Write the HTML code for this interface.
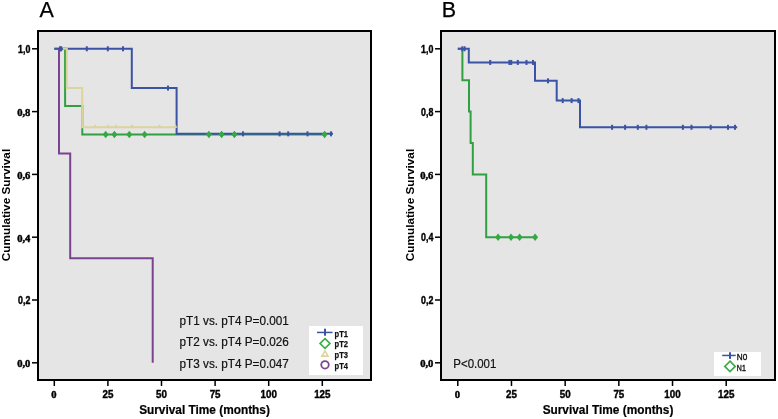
<!DOCTYPE html><html><head><meta charset="utf-8"><style>html,body{margin:0;padding:0;background:#fff;width:778px;height:419px;overflow:hidden}</style></head><body><div style="will-change:transform;width:778px;height:419px"><svg width="778" height="419" viewBox="0 0 778 419" font-family='"Liberation Sans", sans-serif' style="display:block">
<rect width="778" height="419" fill="#fff"/>
<rect x="38" y="31" width="333" height="349" fill="#e5e5e5" stroke="#000" stroke-width="2"/>
<rect x="32" y="362.05" width="5" height="1.5" fill="#000"/>
<text x="30.4" y="367.20" font-size="10.6" font-weight="bold" text-anchor="end" fill="#000" stroke="#000" stroke-width="0.45" font-family='"Liberation Serif", serif'>0,0</text>
<rect x="32" y="299.25" width="5" height="1.5" fill="#000"/>
<text x="30.4" y="304.00" font-size="10.0" font-weight="bold" text-anchor="end" fill="#000" stroke="#000" stroke-width="0.4" textLength="12.3" lengthAdjust="spacingAndGlyphs">0,2</text>
<rect x="32" y="236.45" width="5" height="1.5" fill="#000"/>
<text x="30.4" y="241.60" font-size="10.6" font-weight="bold" text-anchor="end" fill="#000" stroke="#000" stroke-width="0.45" font-family='"Liberation Serif", serif'>0,4</text>
<rect x="32" y="173.65" width="5" height="1.5" fill="#000"/>
<text x="30.4" y="178.80" font-size="10.6" font-weight="bold" text-anchor="end" fill="#000" stroke="#000" stroke-width="0.45" font-family='"Liberation Serif", serif'>0,6</text>
<rect x="32" y="110.85" width="5" height="1.5" fill="#000"/>
<text x="30.4" y="116.00" font-size="10.6" font-weight="bold" text-anchor="end" fill="#000" stroke="#000" stroke-width="0.45" font-family='"Liberation Serif", serif'>0,8</text>
<rect x="32" y="48.05" width="5" height="1.5" fill="#000"/>
<text x="30.4" y="52.80" font-size="10.0" font-weight="bold" text-anchor="end" fill="#000" stroke="#000" stroke-width="0.4" textLength="12.3" lengthAdjust="spacingAndGlyphs">1,0</text>
<rect x="53.55" y="381" width="1.5" height="5" fill="#000"/>
<text x="53.80" y="397.8" font-size="10.6" font-weight="bold" text-anchor="middle" fill="#000" stroke="#000" stroke-width="0.45" font-family='"Liberation Serif", serif'>0</text>
<rect x="107.15" y="381" width="1.5" height="5" fill="#000"/>
<text x="107.90" y="397.8" font-size="10.3" font-weight="bold" text-anchor="middle" fill="#000" stroke="#000" stroke-width="0.4" textLength="10.90" lengthAdjust="spacingAndGlyphs">25</text>
<rect x="160.75" y="381" width="1.5" height="5" fill="#000"/>
<text x="161.50" y="397.8" font-size="10.3" font-weight="bold" text-anchor="middle" fill="#000" stroke="#000" stroke-width="0.4" textLength="10.90" lengthAdjust="spacingAndGlyphs">50</text>
<rect x="214.35" y="381" width="1.5" height="5" fill="#000"/>
<text x="215.10" y="397.8" font-size="10.3" font-weight="bold" text-anchor="middle" fill="#000" stroke="#000" stroke-width="0.4" textLength="10.90" lengthAdjust="spacingAndGlyphs">75</text>
<rect x="267.95" y="381" width="1.5" height="5" fill="#000"/>
<text x="268.70" y="397.8" font-size="10.3" font-weight="bold" text-anchor="middle" fill="#000" stroke="#000" stroke-width="0.4" textLength="16.35" lengthAdjust="spacingAndGlyphs">100</text>
<rect x="321.55" y="381" width="1.5" height="5" fill="#000"/>
<text x="322.30" y="397.8" font-size="10.3" font-weight="bold" text-anchor="middle" fill="#000" stroke="#000" stroke-width="0.4" textLength="16.35" lengthAdjust="spacingAndGlyphs">125</text>
<text x="204.50" y="414.2" font-size="11.85" font-weight="bold" text-anchor="middle" fill="#000" stroke="#000" stroke-width="0.2">Survival Time (months)</text>
<text x="0" y="0" font-size="11.75" font-weight="bold" text-anchor="middle" fill="#000" transform="translate(10.4,205) rotate(-90)">Cumulative Survival</text>
<text x="39.5" y="17" font-size="21.5" font-weight="normal" text-anchor="start" fill="#000" stroke="#000" stroke-width="0.25">A</text>
<path d="M54.30,48.80 L65.10,48.80 L65.10,105.89 L82.30,105.89 L82.30,134.44 L324.40,134.44" fill="none" stroke="#31a040" stroke-width="2" stroke-linejoin="miter" stroke-linecap="butt"/>
<path d="M54.30,48.80 L131.80,48.80 L131.80,88.05 L176.60,88.05 L176.60,133.84 L333.00,133.84" fill="none" stroke="#3a53a5" stroke-width="2" stroke-linejoin="miter" stroke-linecap="butt"/>
<path d="M62.80,48.80 L66.80,48.80 L66.80,88.05 L82.20,88.05 L82.20,127.30 L175.70,127.30" fill="none" stroke="#dcd49c" stroke-width="2" stroke-linejoin="miter" stroke-linecap="butt"/>
<path d="M59.00,48.80 L59.00,48.80 L59.00,153.47 L70.20,153.47 L70.20,258.13 L152.70,258.13 L152.70,362.80" fill="none" stroke="#7b4290" stroke-width="2" stroke-linejoin="miter" stroke-linecap="butt"/>
<path d="M92.90,127.80 L95.20,124.10 L97.50,127.80 Z" fill="#dcd49c"/>
<path d="M105.50,127.80 L107.80,124.10 L110.10,127.80 Z" fill="#dcd49c"/>
<path d="M113.90,127.80 L116.20,124.10 L118.50,127.80 Z" fill="#dcd49c"/>
<path d="M129.70,127.80 L132.00,124.10 L134.30,127.80 Z" fill="#dcd49c"/>
<path d="M157.20,127.80 L159.50,124.10 L161.80,127.80 Z" fill="#dcd49c"/>
<path d="M173.00,127.80 L175.30,124.10 L177.60,127.80 Z" fill="#dcd49c"/>
<path d="M105.70,130.74 L108.70,134.44 L105.70,138.14 L102.70,134.44 Z" fill="#35a844"/>
<path d="M114.40,130.74 L117.40,134.44 L114.40,138.14 L111.40,134.44 Z" fill="#35a844"/>
<path d="M129.30,130.74 L132.30,134.44 L129.30,138.14 L126.30,134.44 Z" fill="#35a844"/>
<path d="M144.60,130.74 L147.60,134.44 L144.60,138.14 L141.60,134.44 Z" fill="#35a844"/>
<path d="M208.90,130.74 L211.90,134.44 L208.90,138.14 L205.90,134.44 Z" fill="#35a844"/>
<path d="M221.60,130.74 L224.60,134.44 L221.60,138.14 L218.60,134.44 Z" fill="#35a844"/>
<path d="M234.40,130.74 L237.40,134.44 L234.40,138.14 L231.40,134.44 Z" fill="#35a844"/>
<path d="M324.60,130.74 L327.60,134.44 L324.60,138.14 L321.60,134.44 Z" fill="#35a844"/>
<rect x="59.00" y="46.30" width="2" height="5" fill="#3a53a5"/>
<rect x="60.20" y="46.30" width="2" height="5" fill="#3a53a5"/>
<rect x="85.80" y="46.30" width="2" height="5" fill="#3a53a5"/>
<rect x="106.80" y="46.30" width="2" height="5" fill="#3a53a5"/>
<rect x="122.00" y="46.30" width="2" height="5" fill="#3a53a5"/>
<rect x="167.00" y="85.55" width="2" height="5" fill="#3a53a5"/>
<rect x="242.00" y="131.34" width="2" height="5" fill="#3a53a5"/>
<rect x="278.60" y="131.34" width="2" height="5" fill="#3a53a5"/>
<rect x="287.20" y="131.34" width="2" height="5" fill="#3a53a5"/>
<rect x="306.50" y="131.34" width="2" height="5" fill="#3a53a5"/>
<rect x="330.00" y="131.34" width="2" height="5" fill="#3a53a5"/>
<text x="179.6" y="325.10" font-size="12.0" font-weight="normal" text-anchor="start" fill="#111" stroke="#111" stroke-width="0.2" textLength="109.2" lengthAdjust="spacingAndGlyphs">pT1 vs. pT4 P=0.001</text>
<text x="179.6" y="346.40" font-size="12.0" font-weight="normal" text-anchor="start" fill="#111" stroke="#111" stroke-width="0.2" textLength="109.2" lengthAdjust="spacingAndGlyphs">pT2 vs. pT4 P=0.026</text>
<text x="179.6" y="367.70" font-size="12.0" font-weight="normal" text-anchor="start" fill="#111" stroke="#111" stroke-width="0.2" textLength="109.2" lengthAdjust="spacingAndGlyphs">pT3 vs. pT4 P=0.047</text>
<rect x="309" y="326" width="54" height="49" fill="#fff"/>
<rect x="317" y="331.7" width="15.5" height="1.5" fill="#3a53a5"/>
<rect x="324" y="328.7" width="2" height="7" fill="#3a53a5"/>
<path d="M325.00,338.60 L329.90,343.50 L325.00,348.40 L320.10,343.50 Z" fill="none" stroke="#3aad48" stroke-width="1.7"/>
<path d="M325.00,350.90 L328.10,356.17 L321.90,356.17 Z" fill="none" stroke="#dcd49c" stroke-width="1.6"/>
<circle cx="325" cy="364.8" r="3.75" fill="none" stroke="#7b4290" stroke-width="1.8"/>
<text x="334.6" y="336.50" font-size="8.8" font-weight="bold" text-anchor="start" fill="#111" stroke="#111" stroke-width="0.25" textLength="13.4" lengthAdjust="spacingAndGlyphs">pT1</text>
<text x="334.6" y="347.40" font-size="8.8" font-weight="bold" text-anchor="start" fill="#111" stroke="#111" stroke-width="0.25" textLength="13.4" lengthAdjust="spacingAndGlyphs">pT2</text>
<text x="334.6" y="358.30" font-size="8.8" font-weight="bold" text-anchor="start" fill="#111" stroke="#111" stroke-width="0.25" textLength="13.4" lengthAdjust="spacingAndGlyphs">pT3</text>
<text x="334.6" y="369.20" font-size="8.8" font-weight="bold" text-anchor="start" fill="#111" stroke="#111" stroke-width="0.25" textLength="13.4" lengthAdjust="spacingAndGlyphs">pT4</text>
<rect x="441" y="31" width="334" height="349" fill="#e5e5e5" stroke="#000" stroke-width="2"/>
<rect x="435" y="362.05" width="5" height="1.5" fill="#000"/>
<text x="433.4" y="367.20" font-size="10.6" font-weight="bold" text-anchor="end" fill="#000" stroke="#000" stroke-width="0.45" font-family='"Liberation Serif", serif'>0,0</text>
<rect x="435" y="299.25" width="5" height="1.5" fill="#000"/>
<text x="433.4" y="304.00" font-size="10.0" font-weight="bold" text-anchor="end" fill="#000" stroke="#000" stroke-width="0.4" textLength="12.3" lengthAdjust="spacingAndGlyphs">0,2</text>
<rect x="435" y="236.45" width="5" height="1.5" fill="#000"/>
<text x="433.4" y="241.20" font-size="10.0" font-weight="bold" text-anchor="end" fill="#000" stroke="#000" stroke-width="0.4" textLength="12.3" lengthAdjust="spacingAndGlyphs">0,4</text>
<rect x="435" y="173.65" width="5" height="1.5" fill="#000"/>
<text x="433.4" y="178.80" font-size="10.6" font-weight="bold" text-anchor="end" fill="#000" stroke="#000" stroke-width="0.45" font-family='"Liberation Serif", serif'>0,6</text>
<rect x="435" y="110.85" width="5" height="1.5" fill="#000"/>
<text x="433.4" y="115.60" font-size="10.0" font-weight="bold" text-anchor="end" fill="#000" stroke="#000" stroke-width="0.4" textLength="12.3" lengthAdjust="spacingAndGlyphs">0,8</text>
<rect x="435" y="48.05" width="5" height="1.5" fill="#000"/>
<text x="433.4" y="52.80" font-size="10.0" font-weight="bold" text-anchor="end" fill="#000" stroke="#000" stroke-width="0.4" textLength="12.3" lengthAdjust="spacingAndGlyphs">1,0</text>
<rect x="457.05" y="381" width="1.5" height="5" fill="#000"/>
<text x="457.30" y="397.8" font-size="10.6" font-weight="bold" text-anchor="middle" fill="#000" stroke="#000" stroke-width="0.45" font-family='"Liberation Serif", serif'>0</text>
<rect x="510.73" y="381" width="1.5" height="5" fill="#000"/>
<text x="511.48" y="397.8" font-size="10.3" font-weight="bold" text-anchor="middle" fill="#000" stroke="#000" stroke-width="0.4" textLength="10.90" lengthAdjust="spacingAndGlyphs">25</text>
<rect x="564.41" y="381" width="1.5" height="5" fill="#000"/>
<text x="565.16" y="397.8" font-size="10.3" font-weight="bold" text-anchor="middle" fill="#000" stroke="#000" stroke-width="0.4" textLength="10.90" lengthAdjust="spacingAndGlyphs">50</text>
<rect x="618.09" y="381" width="1.5" height="5" fill="#000"/>
<text x="618.84" y="397.8" font-size="10.3" font-weight="bold" text-anchor="middle" fill="#000" stroke="#000" stroke-width="0.4" textLength="10.90" lengthAdjust="spacingAndGlyphs">75</text>
<rect x="671.77" y="381" width="1.5" height="5" fill="#000"/>
<text x="672.52" y="397.8" font-size="10.3" font-weight="bold" text-anchor="middle" fill="#000" stroke="#000" stroke-width="0.4" textLength="16.35" lengthAdjust="spacingAndGlyphs">100</text>
<rect x="725.45" y="381" width="1.5" height="5" fill="#000"/>
<text x="726.20" y="397.8" font-size="10.3" font-weight="bold" text-anchor="middle" fill="#000" stroke="#000" stroke-width="0.4" textLength="16.35" lengthAdjust="spacingAndGlyphs">125</text>
<text x="608.00" y="414.2" font-size="11.85" font-weight="bold" text-anchor="middle" fill="#000" stroke="#000" stroke-width="0.2">Survival Time (months)</text>
<text x="0" y="0" font-size="11.75" font-weight="bold" text-anchor="middle" fill="#000" transform="translate(413.6,205) rotate(-90)">Cumulative Survival</text>
<text x="441.7" y="17" font-size="21.5" font-weight="normal" text-anchor="start" fill="#000" stroke="#000" stroke-width="0.25">B</text>
<path d="M457.80,48.80 L462.40,48.80 L462.40,80.20 L469.00,80.20 L469.00,111.60 L470.60,111.60 L470.60,143.00 L472.80,143.00 L472.80,174.40 L486.20,174.40 L486.20,237.20 L535.10,237.20" fill="none" stroke="#31a040" stroke-width="2" stroke-linejoin="miter" stroke-linecap="butt"/>
<path d="M498.10,233.50 L501.10,237.20 L498.10,240.90 L495.10,237.20 Z" fill="#35a844"/>
<path d="M511.00,233.50 L514.00,237.20 L511.00,240.90 L508.00,237.20 Z" fill="#35a844"/>
<path d="M519.60,233.50 L522.60,237.20 L519.60,240.90 L516.60,237.20 Z" fill="#35a844"/>
<path d="M535.10,233.50 L538.10,237.20 L535.10,240.90 L532.10,237.20 Z" fill="#35a844"/>
<path d="M457.80,48.80 L468.80,48.80 L468.80,62.45 L535.00,62.45 L535.00,80.83 L556.70,80.83 L556.70,100.61 L580.00,100.61 L580.00,127.30 L737.20,127.30" fill="none" stroke="#3a53a5" stroke-width="2" stroke-linejoin="miter" stroke-linecap="butt"/>
<rect x="461.30" y="46.30" width="2" height="5" fill="#3a53a5"/>
<rect x="463.60" y="46.30" width="2" height="5" fill="#3a53a5"/>
<rect x="489.20" y="59.95" width="2" height="5" fill="#3a53a5"/>
<rect x="508.40" y="59.95" width="2" height="5" fill="#3a53a5"/>
<rect x="510.20" y="59.95" width="2" height="5" fill="#3a53a5"/>
<rect x="516.80" y="59.95" width="2" height="5" fill="#3a53a5"/>
<rect x="525.50" y="59.95" width="2" height="5" fill="#3a53a5"/>
<rect x="532.00" y="59.95" width="2" height="5" fill="#3a53a5"/>
<rect x="547.00" y="78.33" width="2" height="5" fill="#3a53a5"/>
<rect x="561.70" y="98.11" width="2" height="5" fill="#3a53a5"/>
<rect x="570.60" y="98.11" width="2" height="5" fill="#3a53a5"/>
<rect x="577.50" y="98.11" width="2" height="5" fill="#3a53a5"/>
<rect x="611.10" y="124.80" width="2" height="5" fill="#3a53a5"/>
<rect x="624.10" y="124.80" width="2" height="5" fill="#3a53a5"/>
<rect x="636.80" y="124.80" width="2" height="5" fill="#3a53a5"/>
<rect x="645.40" y="124.80" width="2" height="5" fill="#3a53a5"/>
<rect x="681.90" y="124.80" width="2" height="5" fill="#3a53a5"/>
<rect x="690.50" y="124.80" width="2" height="5" fill="#3a53a5"/>
<rect x="709.70" y="124.80" width="2" height="5" fill="#3a53a5"/>
<rect x="727.00" y="124.80" width="2" height="5" fill="#3a53a5"/>
<rect x="734.00" y="124.80" width="2" height="5" fill="#3a53a5"/>
<text x="453.3" y="368.2" font-size="12.0" font-weight="normal" text-anchor="start" fill="#111" stroke="#111" stroke-width="0.2" textLength="43.0" lengthAdjust="spacingAndGlyphs">P&lt;0.001</text>
<rect x="714" y="352" width="47" height="24" fill="#fff"/>
<rect x="722.2" y="354.7" width="13.5" height="1.5" fill="#3a53a5"/>
<rect x="729" y="352.3" width="2" height="6.6" fill="#3a53a5"/>
<path d="M730.00,361.20 L735.20,366.40 L730.00,371.60 L724.80,366.40 Z" fill="none" stroke="#3aad48" stroke-width="1.7"/>
<text x="736.8" y="359.7" font-size="9.7" font-weight="normal" text-anchor="start" fill="#111" stroke="#111" stroke-width="0.4" textLength="10.4" lengthAdjust="spacingAndGlyphs">N0</text>
<text x="736.8" y="370.8" font-size="9.7" font-weight="normal" text-anchor="start" fill="#111" stroke="#111" stroke-width="0.4" textLength="9.0" lengthAdjust="spacingAndGlyphs">N1</text>
</svg></div></body></html>
